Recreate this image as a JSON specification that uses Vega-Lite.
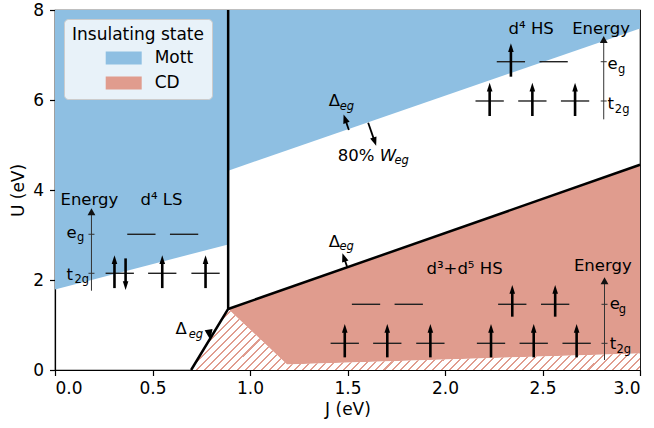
{
  "$schema": "https://vega.github.io/schema/vega-lite/v6.json",
  "width": 585,
  "height": 360,
  "autosize": {"type": "none"},
  "padding": {"left": 55, "top": 10, "right": 14, "bottom": 58},
  "background": "white",
  "config": {
    "font": "DejaVu Sans",
    "view": {"stroke": "black", "strokeWidth": 1.2},
    "axis": {
      "labelFont": "DejaVu Sans", "titleFont": "DejaVu Sans",
      "labelFontSize": 17, "titleFontSize": 17, "titleFontWeight": "normal",
      "labelColor": "black", "titleColor": "black",
      "domainColor": "black", "tickColor": "black",
      "domainWidth": 1.2, "tickWidth": 1.2, "tickSize": 5.5,
      "grid": false, "labelPadding": 5
    },
    "axisX": {"titlePadding": 5},
    "axisY": {"titlePadding": 5, "labelPadding": 6}
  },
  "datasets": {
    "regions": [
      {"part": "mott-a", "state": "Mott", "J": 0, "U": 1.79, "U2": 8},
      {"part": "mott-a", "state": "Mott", "J": 0.888, "U": 2.79, "U2": 8},
      {"part": "mott-b", "state": "Mott", "J": 0.888, "U": 4.43, "U2": 8},
      {"part": "mott-b", "state": "Mott", "J": 3, "U": 7.59, "U2": 8},
      {"part": "cd", "state": "CD", "J": 0.888, "U": 1.356, "U2": 1.356},
      {"part": "cd", "state": "CD", "J": 1.19, "U": 1.814, "U2": 0.122},
      {"part": "cd", "state": "CD", "J": 3, "U": 4.56, "U2": 0.367}
    ],
    "hatch": [
      {"J": 0.698, "U": 0, "U2": 0},
      {"J": 0.888, "U": 1.356, "U2": 0},
      {"J": 1.19, "U": 0.122, "U2": 0},
      {"J": 3, "U": 0.367, "U2": 0}
    ],
    "borders": [
      {"seg": "a", "k": 0, "J": 0.698, "U": 0},
      {"seg": "a", "k": 1, "J": 0.888, "U": 1.356},
      {"seg": "a", "k": 2, "J": 0.888, "U": 8},
      {"seg": "b", "k": 0, "J": 0.888, "U": 1.356},
      {"seg": "b", "k": 1, "J": 3, "U": 4.56}
    ],
    "levels": [
      {"J": 0.443, "U": 3.016}, {"J": 0.662, "U": 3.016},
      {"J": 0.332, "U": 2.149}, {"J": 0.55, "U": 2.149}, {"J": 0.772, "U": 2.149},
      {"J": 2.338, "U": 6.851}, {"J": 2.557, "U": 6.851},
      {"J": 2.229, "U": 5.978}, {"J": 2.448, "U": 5.978}, {"J": 2.667, "U": 5.978},
      {"J": 1.595, "U": 1.46}, {"J": 1.814, "U": 1.46},
      {"J": 1.486, "U": 0.593}, {"J": 1.704, "U": 0.593}, {"J": 1.925, "U": 0.593},
      {"J": 2.345, "U": 1.46}, {"J": 2.565, "U": 1.46},
      {"J": 2.236, "U": 0.593}, {"J": 2.455, "U": 0.593}, {"J": 2.675, "U": 0.593}
    ],
    "spins": [
      {"dir": "up", "J": 0.305, "U": 2.55, "U2": 1.82},
      {"dir": "down", "J": 0.362, "U": 1.778, "U2": 2.48},
      {"dir": "up", "J": 0.55, "U": 2.55, "U2": 1.82},
      {"dir": "up", "J": 0.772, "U": 2.55, "U2": 1.82},
      {"dir": "up", "J": 2.338, "U": 7.26, "U2": 6.518},
      {"dir": "up", "J": 2.229, "U": 6.384, "U2": 5.644},
      {"dir": "up", "J": 2.448, "U": 6.384, "U2": 5.644},
      {"dir": "up", "J": 2.667, "U": 6.384, "U2": 5.644},
      {"dir": "up", "J": 1.486, "U": 1.022, "U2": 0.281},
      {"dir": "up", "J": 1.704, "U": 1.022, "U2": 0.281},
      {"dir": "up", "J": 1.925, "U": 1.022, "U2": 0.281},
      {"dir": "up", "J": 2.345, "U": 1.889, "U2": 1.185},
      {"dir": "up", "J": 2.565, "U": 1.889, "U2": 1.185},
      {"dir": "up", "J": 2.236, "U": 1.022, "U2": 0.281},
      {"dir": "up", "J": 2.455, "U": 1.022, "U2": 0.281},
      {"dir": "up", "J": 2.675, "U": 1.022, "U2": 0.281}
    ],
    "eaxes": [
      {"J": 0.187, "U": 3.593, "U2": 1.762},
      {"J": 2.814, "U": 7.422, "U2": 5.57},
      {"J": 2.818, "U": 2.06, "U2": 0.222}
    ],
    "eticks": [
      {"J": 0.187, "U": 3.016}, {"J": 0.187, "U": 2.149},
      {"J": 2.814, "U": 6.851}, {"J": 2.814, "U": 5.978},
      {"J": 2.818, "U": 1.46}, {"J": 2.818, "U": 0.593}
    ],
    "texts": [
      {"t": "Energy", "J": 0.028, "U": 3.667},
      {"t": "d⁴ LS", "J": 0.438, "U": 3.667},
      {"t": "e", "J": 0.059, "U": 2.933},
      {"t": "t", "J": 0.059, "U": 2.011},
      {"t": "d⁴ HS", "J": 2.326, "U": 7.467},
      {"t": "Energy", "J": 2.652, "U": 7.467},
      {"t": "e", "J": 2.833, "U": 6.689},
      {"t": "t", "J": 2.833, "U": 5.8},
      {"t": "d³+d⁵ HS", "J": 1.905, "U": 2.133},
      {"t": "Energy", "J": 2.661, "U": 2.207},
      {"t": "e", "J": 2.845, "U": 1.349},
      {"t": "t", "J": 2.845, "U": 0.467},
      {"t": "Δ", "J": 1.404, "U": 5.867},
      {"t": "Δ", "J": 1.404, "U": 2.74},
      {"t": "Δ", "J": 0.618, "U": 0.8},
      {"t": "80%", "J": 1.45, "U": 4.644}
    ],
    "italics": [
      {"t": "W", "J": 1.665, "U": 4.644}
    ],
    "subs": [
      {"t": "g", "J": 0.113, "U": 2.867},
      {"t": "2g", "J": 0.1, "U": 1.926},
      {"t": "g", "J": 2.887, "U": 6.593},
      {"t": "2g", "J": 2.871, "U": 5.718},
      {"t": "g", "J": 2.891, "U": 1.26},
      {"t": "2g", "J": 2.879, "U": 0.371}
    ],
    "subits": [
      {"t": "eg", "J": 1.46, "U": 5.778},
      {"t": "eg", "J": 1.459, "U": 2.667},
      {"t": "eg", "J": 0.686, "U": 0.711},
      {"t": "eg", "J": 1.741, "U": 4.578}
    ],
    "pointers": [
      {"name": "top", "J": 1.48, "U": 5.678, "J2": 1.507, "U2": 5.333},
      {"name": "weg", "J": 1.647, "U": 4.982, "J2": 1.606, "U2": 5.496},
      {"name": "mid", "J": 1.474, "U": 2.596, "J2": 1.498, "U2": 2.296},
      {"name": "low", "J": 0.797, "U": 0.667, "J2": 0.797, "U2": 0.667}
    ]
  },
  "encoding": {
    "x": {"field": "J", "type": "quantitative", "scale": {"domain": [0, 3], "nice": false},
          "axis": {"values": [0, 0.5, 1, 1.5, 2, 2.5, 3], "format": ".1f", "title": "J (eV)"}},
    "y": {"field": "U", "type": "quantitative", "scale": {"domain": [0, 8], "nice": false},
          "axis": {"values": [0, 2, 4, 6, 8], "format": "d", "title": "U (eV)"}}
  },
  "layer": [
    {
      "data": {"name": "regions"},
      "mark": {"type": "area", "opacity": 1},
      "encoding": {
        "y2": {"field": "U2"},
        "detail": {"field": "part"},
        "color": {
          "field": "state", "type": "nominal",
          "scale": {"domain": ["Mott", "CD"], "range": ["#8ebfe2", "#e09c8e"]},
          "legend": {
            "title": "Insulating state", "orient": "top-left", "offset": 9, "padding": 8,
            "fillColor": "rgba(255,255,255,0.8)", "strokeColor": "#cccccc", "cornerRadius": 4,
            "titleFontSize": 17, "titleFontWeight": "normal", "titleColor": "black",
            "titleAnchor": "middle", "titlePadding": 5,
            "labelFontSize": 17, "labelColor": "black", "labelOffset": 22, "labelBaseline": "middle",
            "symbolType": "M-2,-0.72H2V0.72H-2Z", "symbolSize": 324, "symbolOffset": 31.7,
            "symbolStrokeWidth": 0, "symbolOpacity": 1, "rowPadding": 8
          }
        }
      }
    },
    {
      "data": {"name": "hatch"},
      "mark": {
        "type": "area", "opacity": 1,
        "fill": {
          "gradient": "linear", "x1": 0, "y1": 0, "x2": 1.1155, "y2": 0.1518,
          "stops": [
            {"offset":0,"color":"#e09c8e"},{"offset":0.004,"color":"#e09c8e"},{"offset":0.004,"color":"#fff"},{"offset":0.016,"color":"#fff"},
            {"offset":0.016,"color":"#e09c8e"},{"offset":0.02,"color":"#e09c8e"},{"offset":0.02,"color":"#fff"},{"offset":0.032,"color":"#fff"},
            {"offset":0.032,"color":"#e09c8e"},{"offset":0.036,"color":"#e09c8e"},{"offset":0.036,"color":"#fff"},{"offset":0.048,"color":"#fff"},
            {"offset":0.048,"color":"#e09c8e"},{"offset":0.052,"color":"#e09c8e"},{"offset":0.052,"color":"#fff"},{"offset":0.064,"color":"#fff"},
            {"offset":0.064,"color":"#e09c8e"},{"offset":0.068,"color":"#e09c8e"},{"offset":0.068,"color":"#fff"},{"offset":0.08,"color":"#fff"},
            {"offset":0.08,"color":"#e09c8e"},{"offset":0.084,"color":"#e09c8e"},{"offset":0.084,"color":"#fff"},{"offset":0.096,"color":"#fff"},
            {"offset":0.096,"color":"#e09c8e"},{"offset":0.1,"color":"#e09c8e"},{"offset":0.1,"color":"#fff"},{"offset":0.112,"color":"#fff"},
            {"offset":0.112,"color":"#e09c8e"},{"offset":0.116,"color":"#e09c8e"},{"offset":0.116,"color":"#fff"},{"offset":0.128,"color":"#fff"},
            {"offset":0.128,"color":"#e09c8e"},{"offset":0.132,"color":"#e09c8e"},{"offset":0.132,"color":"#fff"},{"offset":0.144,"color":"#fff"},
            {"offset":0.144,"color":"#e09c8e"},{"offset":0.148,"color":"#e09c8e"},{"offset":0.148,"color":"#fff"},{"offset":0.16,"color":"#fff"},
            {"offset":0.16,"color":"#e09c8e"},{"offset":0.164,"color":"#e09c8e"},{"offset":0.164,"color":"#fff"},{"offset":0.176,"color":"#fff"},
            {"offset":0.176,"color":"#e09c8e"},{"offset":0.18,"color":"#e09c8e"},{"offset":0.18,"color":"#fff"},{"offset":0.192,"color":"#fff"},
            {"offset":0.192,"color":"#e09c8e"},{"offset":0.196,"color":"#e09c8e"},{"offset":0.196,"color":"#fff"},{"offset":0.208,"color":"#fff"},
            {"offset":0.208,"color":"#e09c8e"},{"offset":0.212,"color":"#e09c8e"},{"offset":0.212,"color":"#fff"},{"offset":0.224,"color":"#fff"},
            {"offset":0.224,"color":"#e09c8e"},{"offset":0.228,"color":"#e09c8e"},{"offset":0.228,"color":"#fff"},{"offset":0.24,"color":"#fff"},
            {"offset":0.24,"color":"#e09c8e"},{"offset":0.244,"color":"#e09c8e"},{"offset":0.244,"color":"#fff"},{"offset":0.256,"color":"#fff"},
            {"offset":0.256,"color":"#e09c8e"},{"offset":0.26,"color":"#e09c8e"},{"offset":0.26,"color":"#fff"},{"offset":0.272,"color":"#fff"},
            {"offset":0.272,"color":"#e09c8e"},{"offset":0.276,"color":"#e09c8e"},{"offset":0.276,"color":"#fff"},{"offset":0.288,"color":"#fff"},
            {"offset":0.288,"color":"#e09c8e"},{"offset":0.292,"color":"#e09c8e"},{"offset":0.292,"color":"#fff"},{"offset":0.304,"color":"#fff"},
            {"offset":0.304,"color":"#e09c8e"},{"offset":0.308,"color":"#e09c8e"},{"offset":0.308,"color":"#fff"},{"offset":0.32,"color":"#fff"},
            {"offset":0.32,"color":"#e09c8e"},{"offset":0.324,"color":"#e09c8e"},{"offset":0.324,"color":"#fff"},{"offset":0.336,"color":"#fff"},
            {"offset":0.336,"color":"#e09c8e"},{"offset":0.34,"color":"#e09c8e"},{"offset":0.34,"color":"#fff"},{"offset":0.352,"color":"#fff"},
            {"offset":0.352,"color":"#e09c8e"},{"offset":0.356,"color":"#e09c8e"},{"offset":0.356,"color":"#fff"},{"offset":0.368,"color":"#fff"},
            {"offset":0.368,"color":"#e09c8e"},{"offset":0.372,"color":"#e09c8e"},{"offset":0.372,"color":"#fff"},{"offset":0.384,"color":"#fff"},
            {"offset":0.384,"color":"#e09c8e"},{"offset":0.388,"color":"#e09c8e"},{"offset":0.388,"color":"#fff"},{"offset":0.4,"color":"#fff"},
            {"offset":0.4,"color":"#e09c8e"},{"offset":0.404,"color":"#e09c8e"},{"offset":0.404,"color":"#fff"},{"offset":0.416,"color":"#fff"},
            {"offset":0.416,"color":"#e09c8e"},{"offset":0.42,"color":"#e09c8e"},{"offset":0.42,"color":"#fff"},{"offset":0.432,"color":"#fff"},
            {"offset":0.432,"color":"#e09c8e"},{"offset":0.436,"color":"#e09c8e"},{"offset":0.436,"color":"#fff"},{"offset":0.448,"color":"#fff"},
            {"offset":0.448,"color":"#e09c8e"},{"offset":0.452,"color":"#e09c8e"},{"offset":0.452,"color":"#fff"},{"offset":0.464,"color":"#fff"},
            {"offset":0.464,"color":"#e09c8e"},{"offset":0.468,"color":"#e09c8e"},{"offset":0.468,"color":"#fff"},{"offset":0.48,"color":"#fff"},
            {"offset":0.48,"color":"#e09c8e"},{"offset":0.484,"color":"#e09c8e"},{"offset":0.484,"color":"#fff"},{"offset":0.496,"color":"#fff"},
            {"offset":0.496,"color":"#e09c8e"},{"offset":0.5,"color":"#e09c8e"},{"offset":0.5,"color":"#fff"},{"offset":0.512,"color":"#fff"},
            {"offset":0.512,"color":"#e09c8e"},{"offset":0.516,"color":"#e09c8e"},{"offset":0.516,"color":"#fff"},{"offset":0.528,"color":"#fff"},
            {"offset":0.528,"color":"#e09c8e"},{"offset":0.532,"color":"#e09c8e"},{"offset":0.532,"color":"#fff"},{"offset":0.544,"color":"#fff"},
            {"offset":0.544,"color":"#e09c8e"},{"offset":0.548,"color":"#e09c8e"},{"offset":0.548,"color":"#fff"},{"offset":0.56,"color":"#fff"},
            {"offset":0.56,"color":"#e09c8e"},{"offset":0.564,"color":"#e09c8e"},{"offset":0.564,"color":"#fff"},{"offset":0.576,"color":"#fff"},
            {"offset":0.576,"color":"#e09c8e"},{"offset":0.58,"color":"#e09c8e"},{"offset":0.58,"color":"#fff"},{"offset":0.592,"color":"#fff"},
            {"offset":0.592,"color":"#e09c8e"},{"offset":0.596,"color":"#e09c8e"},{"offset":0.596,"color":"#fff"},{"offset":0.608,"color":"#fff"},
            {"offset":0.608,"color":"#e09c8e"},{"offset":0.612,"color":"#e09c8e"},{"offset":0.612,"color":"#fff"},{"offset":0.624,"color":"#fff"},
            {"offset":0.624,"color":"#e09c8e"},{"offset":0.628,"color":"#e09c8e"},{"offset":0.628,"color":"#fff"},{"offset":0.64,"color":"#fff"},
            {"offset":0.64,"color":"#e09c8e"},{"offset":0.644,"color":"#e09c8e"},{"offset":0.644,"color":"#fff"},{"offset":0.656,"color":"#fff"},
            {"offset":0.656,"color":"#e09c8e"},{"offset":0.66,"color":"#e09c8e"},{"offset":0.66,"color":"#fff"},{"offset":0.672,"color":"#fff"},
            {"offset":0.672,"color":"#e09c8e"},{"offset":0.676,"color":"#e09c8e"},{"offset":0.676,"color":"#fff"},{"offset":0.688,"color":"#fff"},
            {"offset":0.688,"color":"#e09c8e"},{"offset":0.692,"color":"#e09c8e"},{"offset":0.692,"color":"#fff"},{"offset":0.704,"color":"#fff"},
            {"offset":0.704,"color":"#e09c8e"},{"offset":0.708,"color":"#e09c8e"},{"offset":0.708,"color":"#fff"},{"offset":0.72,"color":"#fff"},
            {"offset":0.72,"color":"#e09c8e"},{"offset":0.724,"color":"#e09c8e"},{"offset":0.724,"color":"#fff"},{"offset":0.736,"color":"#fff"},
            {"offset":0.736,"color":"#e09c8e"},{"offset":0.74,"color":"#e09c8e"},{"offset":0.74,"color":"#fff"},{"offset":0.752,"color":"#fff"},
            {"offset":0.752,"color":"#e09c8e"},{"offset":0.756,"color":"#e09c8e"},{"offset":0.756,"color":"#fff"},{"offset":0.768,"color":"#fff"},
            {"offset":0.768,"color":"#e09c8e"},{"offset":0.772,"color":"#e09c8e"},{"offset":0.772,"color":"#fff"},{"offset":0.784,"color":"#fff"},
            {"offset":0.784,"color":"#e09c8e"},{"offset":0.788,"color":"#e09c8e"},{"offset":0.788,"color":"#fff"},{"offset":0.8,"color":"#fff"},
            {"offset":0.8,"color":"#e09c8e"},{"offset":0.804,"color":"#e09c8e"},{"offset":0.804,"color":"#fff"},{"offset":0.816,"color":"#fff"},
            {"offset":0.816,"color":"#e09c8e"},{"offset":0.82,"color":"#e09c8e"},{"offset":0.82,"color":"#fff"},{"offset":0.832,"color":"#fff"},
            {"offset":0.832,"color":"#e09c8e"},{"offset":0.836,"color":"#e09c8e"},{"offset":0.836,"color":"#fff"},{"offset":0.848,"color":"#fff"},
            {"offset":0.848,"color":"#e09c8e"},{"offset":0.852,"color":"#e09c8e"},{"offset":0.852,"color":"#fff"},{"offset":0.864,"color":"#fff"},
            {"offset":0.864,"color":"#e09c8e"},{"offset":0.868,"color":"#e09c8e"},{"offset":0.868,"color":"#fff"},{"offset":0.88,"color":"#fff"},
            {"offset":0.88,"color":"#e09c8e"},{"offset":0.884,"color":"#e09c8e"},{"offset":0.884,"color":"#fff"},{"offset":0.896,"color":"#fff"},
            {"offset":0.896,"color":"#e09c8e"},{"offset":0.9,"color":"#e09c8e"},{"offset":0.9,"color":"#fff"},{"offset":0.912,"color":"#fff"},
            {"offset":0.912,"color":"#e09c8e"},{"offset":0.916,"color":"#e09c8e"},{"offset":0.916,"color":"#fff"},{"offset":0.928,"color":"#fff"},
            {"offset":0.928,"color":"#e09c8e"},{"offset":0.932,"color":"#e09c8e"},{"offset":0.932,"color":"#fff"},{"offset":0.944,"color":"#fff"},
            {"offset":0.944,"color":"#e09c8e"},{"offset":0.948,"color":"#e09c8e"},{"offset":0.948,"color":"#fff"},{"offset":0.96,"color":"#fff"},
            {"offset":0.96,"color":"#e09c8e"},{"offset":0.964,"color":"#e09c8e"},{"offset":0.964,"color":"#fff"},{"offset":0.976,"color":"#fff"},
            {"offset":0.976,"color":"#e09c8e"},{"offset":0.98,"color":"#e09c8e"},{"offset":0.98,"color":"#fff"},{"offset":0.992,"color":"#fff"},
            {"offset":0.992,"color":"#e09c8e"},{"offset":0.996,"color":"#e09c8e"},{"offset":0.996,"color":"#fff"},{"offset":1,"color":"#fff"}
          ]
        }
      },
      "encoding": {"y2": {"field": "U2"}}
    },
    {
      "data": {"name": "borders"},
      "mark": {"type": "line", "color": "black", "strokeWidth": 2.5, "strokeJoin": "miter"},
      "encoding": {"detail": {"field": "seg"}, "order": {"field": "k", "type": "quantitative"}}
    },
    {
      "data": {"name": "eaxes"},
      "mark": {"type": "rule", "color": "#333333", "strokeWidth": 1, "yOffset": 5},
      "encoding": {"y2": {"field": "U2"}}
    },
    {
      "data": {"name": "eaxes"},
      "mark": {"type": "point", "shape": "M0,0L-1,1.8L1,1.8Z", "size": 61, "filled": true, "color": "#111111", "opacity": 1, "strokeWidth": 0}
    },
    {
      "data": {"name": "eticks"},
      "mark": {"type": "point", "shape": "stroke", "size": 36, "color": "#333333", "strokeWidth": 1, "opacity": 1}
    },
    {
      "data": {"name": "levels"},
      "mark": {"type": "point", "shape": "stroke", "size": 801, "color": "#222222", "strokeWidth": 1.4, "opacity": 1}
    },
    {
      "data": {"name": "spins"},
      "transform": [{"filter": "datum.dir === 'up'"}],
      "mark": {"type": "rule", "color": "black", "strokeWidth": 2.6, "yOffset": 6},
      "encoding": {"y2": {"field": "U2"}}
    },
    {
      "data": {"name": "spins"},
      "transform": [{"filter": "datum.dir === 'down'"}],
      "mark": {"type": "rule", "color": "black", "strokeWidth": 2.6, "yOffset": -6},
      "encoding": {"y2": {"field": "U2"}}
    },
    {
      "data": {"name": "spins"},
      "transform": [{"filter": "datum.dir === 'up'"}],
      "mark": {"type": "point", "shape": "M0,0L-0.7,2.2L0.7,2.2Z", "size": 64, "filled": true, "color": "black", "opacity": 1, "strokeWidth": 0}
    },
    {
      "data": {"name": "spins"},
      "transform": [{"filter": "datum.dir === 'down'"}],
      "mark": {"type": "point", "shape": "M0,0L-0.7,-2.2L0.7,-2.2Z", "size": 64, "filled": true, "color": "black", "opacity": 1, "strokeWidth": 0}
    },
    {
      "data": {"name": "texts"},
      "mark": {"type": "text", "align": "left", "baseline": "alphabetic", "fontSize": 16.5, "color": "black", "font": "DejaVu Sans"},
      "encoding": {"text": {"field": "t"}}
    },
    {
      "data": {"name": "italics"},
      "mark": {"type": "text", "align": "left", "baseline": "alphabetic", "fontSize": 16.5, "fontStyle": "italic", "color": "black", "font": "DejaVu Sans"},
      "encoding": {"text": {"field": "t"}}
    },
    {
      "data": {"name": "subs"},
      "mark": {"type": "text", "align": "left", "baseline": "alphabetic", "fontSize": 11.5, "color": "black", "font": "DejaVu Sans"},
      "encoding": {"text": {"field": "t"}}
    },
    {
      "data": {"name": "subits"},
      "mark": {"type": "text", "align": "left", "baseline": "alphabetic", "fontSize": 11.5, "fontStyle": "italic", "color": "black", "font": "DejaVu Sans"},
      "encoding": {"text": {"field": "t"}}
    },
    {
      "data": {"name": "pointers"},
      "transform": [{"filter": "datum.name === 'top' || datum.name === 'mid'"}],
      "mark": {"type": "rule", "color": "black", "strokeWidth": 1.8, "xOffset": 1.6, "yOffset": 4.7},
      "encoding": {"x2": {"field": "J2"}, "y2": {"field": "U2"}}
    },
    {
      "data": {"name": "pointers"},
      "transform": [{"filter": "datum.name === 'weg'"}],
      "mark": {"type": "rule", "color": "black", "strokeWidth": 1.8, "xOffset": -1.6, "yOffset": -4.7},
      "encoding": {"x2": {"field": "J2"}, "y2": {"field": "U2"}}
    },
    {
      "data": {"name": "pointers"},
      "transform": [{"filter": "datum.name === 'top' || datum.name === 'mid'"}],
      "mark": {"type": "point", "shape": "M0,0L-0.8,2.1L0.8,2.1Z", "size": 70, "angle": -19, "filled": true, "color": "black", "opacity": 1, "strokeWidth": 0}
    },
    {
      "data": {"name": "pointers"},
      "transform": [{"filter": "datum.name === 'weg'"}],
      "mark": {"type": "point", "shape": "M0,0L-0.8,2.1L0.8,2.1Z", "size": 70, "angle": 161, "filled": true, "color": "black", "opacity": 1, "strokeWidth": 0}
    },
    {
      "data": {"name": "pointers"},
      "transform": [{"filter": "datum.name === 'low'"}],
      "mark": {"type": "point", "shape": "M0,0L-0.8,2.1L0.8,2.1Z", "size": 100, "angle": 170, "filled": true, "color": "black", "opacity": 1, "strokeWidth": 0}
    }
  ]
}
